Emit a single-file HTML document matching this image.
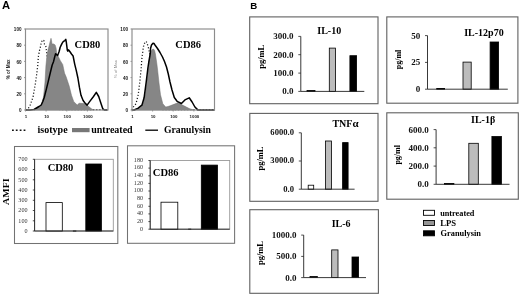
<!DOCTYPE html>
<html><head><meta charset="utf-8"><style>
html,body{margin:0;padding:0;background:#fff;}
body{width:520px;height:295px;overflow:hidden;font-family:"Liberation Sans",sans-serif;}
svg{display:block;filter:grayscale(1) blur(0.35px);}
</style></head><body>
<svg width="520" height="295" viewBox="0 0 520 295">
<rect width="520" height="295" fill="#fff"/>
<polyline points="26.0,110.0 28.0,109.0 30.2,105.0 33.0,97.2 35.7,81.6 37.7,66.0 38.4,56.4 39.3,51.5 39.7,49.5 40.5,46.6 41.3,42.5 42.5,40.0 43.8,40.5 44.5,44.2 45.8,46.2 46.6,51.9 47.0,55.2 49.0,70.0 52.0,90.0 56.0,105.0 60.0,109.6 107.0,109.6" fill="none" stroke="#111" stroke-width="1.25" stroke-dasharray="1.1 2"/>
<polygon points="34.0,110.0 34.0,110.0 36.5,108.6 39.0,107.0 41.5,104.5 43.5,97.0 45.0,82.0 45.9,66.0 47.0,55.0 48.2,49.0 49.0,46.2 50.0,42.1 51.0,38.3 51.6,41.0 52.0,44.0 53.6,43.9 55.1,44.9 56.1,48.2 56.6,52.8 58.2,56.3 60.2,60.4 61.7,62.9 62.7,64.4 63.5,68.2 64.5,73.1 66.2,77.0 67.2,80.0 69.2,86.0 71.5,95.3 73.8,101.7 77.3,105.1 79.0,103.2 84.2,103.6 87.7,105.7 91.2,108.6 93.5,110.0 93.5,110.0" fill="#868686" stroke="#707070" stroke-width="0.5"/>
<polyline points="25.5,110.0 30.0,110.0 34.0,109.5 36.5,108.0 39.0,106.5 41.2,105.0 42.8,101.5 44.3,97.2 46.3,89.4 48.2,81.6 50.0,74.0 51.2,69.0 52.2,65.0 53.6,61.4 54.6,57.3 55.6,53.8 56.6,54.6 57.6,55.5 58.4,53.5 59.2,51.2 60.2,47.2 61.2,45.1 62.2,43.1 63.2,41.6 64.8,40.6 65.8,39.4 66.3,42.1 66.8,46.2 67.3,50.2 67.8,51.2 68.6,49.9 69.8,51.5 71.5,54.0 73.1,56.0 74.7,64.1 76.3,70.6 77.9,78.0 79.4,87.2 81.0,95.3 83.1,100.5 85.0,103.0 87.1,105.1 90.0,101.1 93.5,96.5 96.3,92.4 98.7,96.5 101.0,103.4 102.7,108.6 104.4,110.0 107.5,110.0" fill="none" stroke="#000" stroke-width="1.5" stroke-linejoin="round"/>
<rect x="25.5" y="29" width="82.5" height="81" fill="none" stroke="#8c8c8c" stroke-width="1.15"/>
<line x1="24.0" y1="110.0" x2="25.5" y2="110.0" stroke="#888" stroke-width="0.8"/>
<text x="21.5" y="112.1" font-size="4.6" font-weight="bold" text-anchor="end" fill="#111" font-family='"Liberation Sans", sans-serif'>0</text>
<line x1="24.0" y1="93.8" x2="25.5" y2="93.8" stroke="#888" stroke-width="0.8"/>
<text x="21.5" y="95.9" font-size="4.6" font-weight="bold" text-anchor="end" fill="#111" font-family='"Liberation Sans", sans-serif'>20</text>
<line x1="24.0" y1="77.6" x2="25.5" y2="77.6" stroke="#888" stroke-width="0.8"/>
<text x="21.5" y="79.7" font-size="4.6" font-weight="bold" text-anchor="end" fill="#111" font-family='"Liberation Sans", sans-serif'>40</text>
<line x1="24.0" y1="61.4" x2="25.5" y2="61.4" stroke="#888" stroke-width="0.8"/>
<text x="21.5" y="63.5" font-size="4.6" font-weight="bold" text-anchor="end" fill="#111" font-family='"Liberation Sans", sans-serif'>60</text>
<line x1="24.0" y1="45.2" x2="25.5" y2="45.2" stroke="#888" stroke-width="0.8"/>
<text x="21.5" y="47.3" font-size="4.6" font-weight="bold" text-anchor="end" fill="#111" font-family='"Liberation Sans", sans-serif'>80</text>
<line x1="24.0" y1="29.0" x2="25.5" y2="29.0" stroke="#888" stroke-width="0.8"/>
<text x="21.5" y="31.1" font-size="4.6" font-weight="bold" text-anchor="end" fill="#111" font-family='"Liberation Sans", sans-serif'>100</text>
<line x1="25.5" y1="110" x2="25.5" y2="111.5" stroke="#888" stroke-width="0.8"/>
<text x="26.0" y="117.6" font-size="4.4" font-weight="bold" text-anchor="middle" fill="#222" font-family='"Liberation Sans", sans-serif'>1</text>
<line x1="46.1" y1="110" x2="46.1" y2="111.5" stroke="#888" stroke-width="0.8"/>
<text x="46.6" y="117.6" font-size="4.4" font-weight="bold" text-anchor="middle" fill="#222" font-family='"Liberation Sans", sans-serif'>10</text>
<line x1="66.8" y1="110" x2="66.8" y2="111.5" stroke="#888" stroke-width="0.8"/>
<text x="67.2" y="117.6" font-size="4.4" font-weight="bold" text-anchor="middle" fill="#222" font-family='"Liberation Sans", sans-serif'>100</text>
<line x1="87.4" y1="110" x2="87.4" y2="111.5" stroke="#888" stroke-width="0.8"/>
<text x="87.9" y="117.6" font-size="4.4" font-weight="bold" text-anchor="middle" fill="#222" font-family='"Liberation Sans", sans-serif'>1000</text>
<text x="74.6" y="48.3" font-size="10.5" font-weight="bold" fill="#000" font-family='"Liberation Serif", serif'>CD80</text>
<polyline points="132.0,110.0 133.0,107.5 136.0,103.7 138.2,94.8 139.7,82.9 141.2,68.0 141.6,62.0 142.1,56.5 143.5,46.5 145.0,42.0 146.0,41.5 147.0,42.5 147.8,45.8 148.5,48.0 150.0,55.0 152.0,70.0 155.0,90.0 158.0,105.0 162.0,109.6 214.0,109.6" fill="none" stroke="#111" stroke-width="1.25" stroke-dasharray="1.1 2"/>
<polygon points="134.0,110.0 134.0,110.0 138.0,109.2 141.5,106.8 143.5,102.0 145.2,95.0 146.4,85.0 147.5,75.0 148.5,67.0 149.3,61.0 150.2,55.0 151.2,51.0 152.5,49.3 153.5,49.0 154.6,50.5 155.4,54.0 156.3,60.0 157.0,65.0 157.6,70.0 159.0,82.9 160.5,94.8 162.8,103.7 165.7,107.0 168.0,106.5 170.7,105.6 177.8,102.8 183.5,105.6 189.2,108.5 193.5,110.0 193.5,110.0" fill="#868686" stroke="#707070" stroke-width="0.5"/>
<polyline points="132.0,110.0 134.0,110.0 138.2,108.2 141.9,105.2 144.1,97.8 146.1,82.9 147.9,68.0 148.8,62.0 149.5,58.0 150.2,54.0 150.6,48.2 151.5,45.0 153.0,43.2 154.0,43.5 155.5,45.8 157.5,48.5 160.0,52.5 162.5,57.0 164.5,61.5 166.5,67.0 168.3,74.0 170.0,82.0 172.0,90.0 174.3,97.5 177.1,101.3 181.4,103.5 184.9,99.9 189.2,97.8 192.1,102.0 194.9,107.0 197.8,109.9 214.5,110.0" fill="none" stroke="#000" stroke-width="1.5" stroke-linejoin="round"/>
<rect x="132" y="29" width="82.5" height="81" fill="none" stroke="#8c8c8c" stroke-width="1.15"/>
<line x1="130.5" y1="110.0" x2="132" y2="110.0" stroke="#888" stroke-width="0.8"/>
<text x="128" y="112.1" font-size="4.6" font-weight="bold" text-anchor="end" fill="#111" font-family='"Liberation Sans", sans-serif'>0</text>
<line x1="130.5" y1="93.8" x2="132" y2="93.8" stroke="#888" stroke-width="0.8"/>
<text x="128" y="95.9" font-size="4.6" font-weight="bold" text-anchor="end" fill="#111" font-family='"Liberation Sans", sans-serif'>20</text>
<line x1="130.5" y1="77.6" x2="132" y2="77.6" stroke="#888" stroke-width="0.8"/>
<text x="128" y="79.7" font-size="4.6" font-weight="bold" text-anchor="end" fill="#111" font-family='"Liberation Sans", sans-serif'>40</text>
<line x1="130.5" y1="61.4" x2="132" y2="61.4" stroke="#888" stroke-width="0.8"/>
<text x="128" y="63.5" font-size="4.6" font-weight="bold" text-anchor="end" fill="#111" font-family='"Liberation Sans", sans-serif'>60</text>
<line x1="130.5" y1="45.2" x2="132" y2="45.2" stroke="#888" stroke-width="0.8"/>
<text x="128" y="47.3" font-size="4.6" font-weight="bold" text-anchor="end" fill="#111" font-family='"Liberation Sans", sans-serif'>80</text>
<line x1="130.5" y1="29.0" x2="132" y2="29.0" stroke="#888" stroke-width="0.8"/>
<text x="128" y="31.1" font-size="4.6" font-weight="bold" text-anchor="end" fill="#111" font-family='"Liberation Sans", sans-serif'>100</text>
<line x1="132.0" y1="110" x2="132.0" y2="111.5" stroke="#888" stroke-width="0.8"/>
<text x="132.5" y="117.6" font-size="4.4" font-weight="bold" text-anchor="middle" fill="#222" font-family='"Liberation Sans", sans-serif'>1</text>
<line x1="152.6" y1="110" x2="152.6" y2="111.5" stroke="#888" stroke-width="0.8"/>
<text x="153.1" y="117.6" font-size="4.4" font-weight="bold" text-anchor="middle" fill="#222" font-family='"Liberation Sans", sans-serif'>10</text>
<line x1="173.2" y1="110" x2="173.2" y2="111.5" stroke="#888" stroke-width="0.8"/>
<text x="173.8" y="117.6" font-size="4.4" font-weight="bold" text-anchor="middle" fill="#222" font-family='"Liberation Sans", sans-serif'>100</text>
<line x1="193.9" y1="110" x2="193.9" y2="111.5" stroke="#888" stroke-width="0.8"/>
<text x="194.4" y="117.6" font-size="4.4" font-weight="bold" text-anchor="middle" fill="#222" font-family='"Liberation Sans", sans-serif'>1000</text>
<text x="175.3" y="48.3" font-size="10.5" font-weight="bold" fill="#000" font-family='"Liberation Serif", serif'>CD86</text>
<text transform="translate(10.3,69.3) rotate(-90)" font-size="4.6" font-weight="bold" text-anchor="middle" fill="#222" font-family='"Liberation Sans", sans-serif'>% of Max</text>
<text transform="translate(117.4,69.2) rotate(-90)" font-size="4.4" text-anchor="middle" fill="#888" font-family='"Liberation Sans", sans-serif'>% of Max</text>
<rect x="12.0" y="129.5" width="1.8" height="1.5" fill="#111"/>
<rect x="15.8" y="129.5" width="1.8" height="1.5" fill="#111"/>
<rect x="19.7" y="129.5" width="1.8" height="1.5" fill="#111"/>
<rect x="23.6" y="129.5" width="1.8" height="1.5" fill="#111"/>
<text x="37.6" y="133" font-size="10" font-weight="bold" fill="#000" font-family='"Liberation Serif", serif'>isotype</text>
<rect x="72" y="128" width="17.6" height="4.2" fill="#777"/>
<text x="91.2" y="133" font-size="10" font-weight="bold" fill="#000" font-family='"Liberation Serif", serif'>untreated</text>
<line x1="145.3" y1="130.2" x2="158" y2="130.2" stroke="#000" stroke-width="1.3"/>
<text x="164" y="133" font-size="9.7" font-weight="bold" fill="#000" font-family='"Liberation Serif", serif'>Granulysin</text>
<text x="1.9" y="8.9" font-size="11.2" font-weight="bold" fill="#000" font-family='"Liberation Sans", sans-serif'>A</text>
<text x="250.2" y="8.8" font-size="9.7" font-weight="bold" fill="#000" font-family='"Liberation Sans", sans-serif'>B</text>
<rect x="14.5" y="146.5" width="103.3" height="97.0" fill="none" stroke="#727272" stroke-width="1.05"/>
<rect x="34.6" y="159.3" width="78.69999999999999" height="71.69999999999999" fill="none" stroke="#999" stroke-width="0.9"/>
<rect x="46" y="202.6" width="16.299999999999997" height="28.400000000000006" fill="#fff" stroke="#000" stroke-width="0.8"/>
<rect x="85.8" y="164" width="15.600000000000009" height="67" fill="#000" stroke="#000" stroke-width="0.8"/>
<line x1="34.6" y1="159.3" x2="34.6" y2="231" stroke="#222" stroke-width="0.9"/>
<line x1="34.6" y1="231" x2="113.3" y2="231" stroke="#222" stroke-width="0.9"/>
<line x1="32.800000000000004" y1="231.0" x2="34.6" y2="231.0" stroke="#222" stroke-width="0.8"/>
<text x="27.5" y="232.9" font-size="6.1" fill="#333" text-anchor="end" font-family='"Liberation Serif", serif'>0</text>
<line x1="32.800000000000004" y1="220.8" x2="34.6" y2="220.8" stroke="#222" stroke-width="0.8"/>
<text x="27.5" y="222.7" font-size="6.1" fill="#333" text-anchor="end" font-family='"Liberation Serif", serif'>100</text>
<line x1="32.800000000000004" y1="210.5" x2="34.6" y2="210.5" stroke="#222" stroke-width="0.8"/>
<text x="27.5" y="212.4" font-size="6.1" fill="#333" text-anchor="end" font-family='"Liberation Serif", serif'>200</text>
<line x1="32.800000000000004" y1="200.3" x2="34.6" y2="200.3" stroke="#222" stroke-width="0.8"/>
<text x="27.5" y="202.2" font-size="6.1" fill="#333" text-anchor="end" font-family='"Liberation Serif", serif'>300</text>
<line x1="32.800000000000004" y1="190.0" x2="34.6" y2="190.0" stroke="#222" stroke-width="0.8"/>
<text x="27.5" y="191.9" font-size="6.1" fill="#333" text-anchor="end" font-family='"Liberation Serif", serif'>400</text>
<line x1="32.800000000000004" y1="179.8" x2="34.6" y2="179.8" stroke="#222" stroke-width="0.8"/>
<text x="27.5" y="181.7" font-size="6.1" fill="#333" text-anchor="end" font-family='"Liberation Serif", serif'>500</text>
<line x1="32.800000000000004" y1="169.5" x2="34.6" y2="169.5" stroke="#222" stroke-width="0.8"/>
<text x="27.5" y="171.4" font-size="6.1" fill="#333" text-anchor="end" font-family='"Liberation Serif", serif'>600</text>
<line x1="32.800000000000004" y1="159.3" x2="34.6" y2="159.3" stroke="#222" stroke-width="0.8"/>
<text x="27.5" y="161.2" font-size="6.1" fill="#333" text-anchor="end" font-family='"Liberation Serif", serif'>700</text>
<text x="47.7" y="170.6" font-size="10.5" font-weight="bold" fill="#000" font-family='"Liberation Serif", serif'>CD80</text>
<rect x="127.5" y="145.8" width="107.1" height="97.5" fill="none" stroke="#727272" stroke-width="1.05"/>
<rect x="150.2" y="160.5" width="79.5" height="68.69999999999999" fill="none" stroke="#999" stroke-width="0.9"/>
<rect x="161" y="202.2" width="16.80000000000001" height="27.0" fill="#fff" stroke="#000" stroke-width="0.8"/>
<rect x="201.3" y="165.1" width="16.19999999999999" height="64.1" fill="#000" stroke="#000" stroke-width="0.8"/>
<line x1="150.2" y1="160.5" x2="150.2" y2="229.2" stroke="#222" stroke-width="0.9"/>
<line x1="150.2" y1="229.2" x2="229.7" y2="229.2" stroke="#222" stroke-width="0.9"/>
<line x1="148.39999999999998" y1="229.2" x2="150.2" y2="229.2" stroke="#222" stroke-width="0.8"/>
<text x="143.0" y="230.5" font-size="6.1" fill="#333" text-anchor="end" font-family='"Liberation Serif", serif'>0</text>
<line x1="148.39999999999998" y1="221.6" x2="150.2" y2="221.6" stroke="#222" stroke-width="0.8"/>
<text x="143.0" y="222.9" font-size="6.1" fill="#333" text-anchor="end" font-family='"Liberation Serif", serif'>20</text>
<line x1="148.39999999999998" y1="213.9" x2="150.2" y2="213.9" stroke="#222" stroke-width="0.8"/>
<text x="143.0" y="215.2" font-size="6.1" fill="#333" text-anchor="end" font-family='"Liberation Serif", serif'>40</text>
<line x1="148.39999999999998" y1="206.3" x2="150.2" y2="206.3" stroke="#222" stroke-width="0.8"/>
<text x="143.0" y="207.6" font-size="6.1" fill="#333" text-anchor="end" font-family='"Liberation Serif", serif'>60</text>
<line x1="148.39999999999998" y1="198.7" x2="150.2" y2="198.7" stroke="#222" stroke-width="0.8"/>
<text x="143.0" y="200.0" font-size="6.1" fill="#333" text-anchor="end" font-family='"Liberation Serif", serif'>80</text>
<line x1="148.39999999999998" y1="191.0" x2="150.2" y2="191.0" stroke="#222" stroke-width="0.8"/>
<text x="143.0" y="192.3" font-size="6.1" fill="#333" text-anchor="end" font-family='"Liberation Serif", serif'>100</text>
<line x1="148.39999999999998" y1="183.4" x2="150.2" y2="183.4" stroke="#222" stroke-width="0.8"/>
<text x="143.0" y="184.7" font-size="6.1" fill="#333" text-anchor="end" font-family='"Liberation Serif", serif'>120</text>
<line x1="148.39999999999998" y1="175.8" x2="150.2" y2="175.8" stroke="#222" stroke-width="0.8"/>
<text x="143.0" y="177.1" font-size="6.1" fill="#333" text-anchor="end" font-family='"Liberation Serif", serif'>140</text>
<line x1="148.39999999999998" y1="168.1" x2="150.2" y2="168.1" stroke="#222" stroke-width="0.8"/>
<text x="143.0" y="169.4" font-size="6.1" fill="#333" text-anchor="end" font-family='"Liberation Serif", serif'>160</text>
<line x1="148.39999999999998" y1="160.5" x2="150.2" y2="160.5" stroke="#222" stroke-width="0.8"/>
<text x="143.0" y="161.8" font-size="6.1" fill="#333" text-anchor="end" font-family='"Liberation Serif", serif'>180</text>
<text x="152.8" y="175.8" font-size="10.5" font-weight="bold" fill="#000" font-family='"Liberation Serif", serif'>CD86</text>
<rect x="72.9" y="230.4" width="3.4" height="1.3" fill="#333"/>
<rect x="188.2" y="228.6" width="3" height="1.3" fill="#333"/>
<text transform="translate(9.3,191.7) rotate(-90) scale(1.28,1)" font-size="7.8" font-weight="bold" text-anchor="middle" fill="#000" font-family='"Liberation Serif", serif'>AMFI</text>
<rect x="249.7" y="16.9" width="128.3" height="86.80000000000001" fill="none" stroke="#606060" stroke-width="1.1"/>
<rect x="307" y="90.4" width="8" height="1.0" fill="#000" stroke="#000" stroke-width="0.8"/>
<rect x="329.3" y="48.1" width="6.300000000000011" height="43.300000000000004" fill="#bcbcbc" stroke="#000" stroke-width="0.8"/>
<rect x="349.9" y="55.7" width="6.7000000000000455" height="35.7" fill="#000" stroke="#000" stroke-width="0.8"/>
<line x1="300.8" y1="36.4" x2="300.8" y2="91.4" stroke="#222" stroke-width="0.9"/>
<line x1="300.8" y1="91.4" x2="364.3" y2="91.4" stroke="#222" stroke-width="0.9"/>
<line x1="298.3" y1="91.4" x2="300.8" y2="91.4" stroke="#222" stroke-width="0.8"/>
<text x="293.5" y="94.3" font-size="9" font-weight="bold" fill="#111" text-anchor="end" font-family='"Liberation Serif", serif'>0.0</text>
<line x1="298.3" y1="73.1" x2="300.8" y2="73.1" stroke="#222" stroke-width="0.8"/>
<text x="293.5" y="76.0" font-size="9" font-weight="bold" fill="#111" text-anchor="end" font-family='"Liberation Serif", serif'>100.0</text>
<line x1="298.3" y1="54.7" x2="300.8" y2="54.7" stroke="#222" stroke-width="0.8"/>
<text x="293.5" y="57.6" font-size="9" font-weight="bold" fill="#111" text-anchor="end" font-family='"Liberation Serif", serif'>200.0</text>
<line x1="298.3" y1="36.4" x2="300.8" y2="36.4" stroke="#222" stroke-width="0.8"/>
<text x="293.5" y="39.3" font-size="9" font-weight="bold" fill="#111" text-anchor="end" font-family='"Liberation Serif", serif'>300.0</text>
<text x="317.3" y="34.2" font-size="10" font-weight="bold" fill="#000" font-family='"Liberation Serif", serif'>IL-10</text>
<text transform="translate(263.8,56.8) rotate(-90)" font-size="8.5" font-weight="bold" text-anchor="middle" fill="#000" font-family='"Liberation Serif", serif'>pg/mL</text>
<rect x="386.8" y="16.9" width="131.09999999999997" height="86.30000000000001" fill="none" stroke="#606060" stroke-width="1.1"/>
<rect x="436.7" y="88.4" width="7.900000000000034" height="0.7999999999999972" fill="#000" stroke="#000" stroke-width="0.8"/>
<rect x="463" y="62.1" width="8.199999999999989" height="27.1" fill="#bcbcbc" stroke="#000" stroke-width="0.8"/>
<rect x="490.1" y="42" width="8.5" height="47.2" fill="#000" stroke="#000" stroke-width="0.8"/>
<line x1="427.5" y1="35.6" x2="427.5" y2="89.2" stroke="#222" stroke-width="0.9"/>
<line x1="427.5" y1="89.2" x2="507.8" y2="89.2" stroke="#222" stroke-width="0.9"/>
<line x1="425.0" y1="89.2" x2="427.5" y2="89.2" stroke="#222" stroke-width="0.8"/>
<text x="420.2" y="92.1" font-size="9" font-weight="bold" fill="#111" text-anchor="end" font-family='"Liberation Serif", serif'>0</text>
<line x1="425.0" y1="62.4" x2="427.5" y2="62.4" stroke="#222" stroke-width="0.8"/>
<text x="420.2" y="65.3" font-size="9" font-weight="bold" fill="#111" text-anchor="end" font-family='"Liberation Serif", serif'>25</text>
<line x1="425.0" y1="35.6" x2="427.5" y2="35.6" stroke="#222" stroke-width="0.8"/>
<text x="420.2" y="38.5" font-size="9" font-weight="bold" fill="#111" text-anchor="end" font-family='"Liberation Serif", serif'>50</text>
<text x="464.2" y="35.6" font-size="10" font-weight="bold" fill="#000" font-family='"Liberation Serif", serif'>IL-12p70</text>
<text transform="translate(401.2,59.5) rotate(-90)" font-size="8.0" font-weight="bold" text-anchor="middle" fill="#000" font-family='"Liberation Serif", serif'>pg/ml</text>
<rect x="249.8" y="113.4" width="128.2" height="87.9" fill="none" stroke="#606060" stroke-width="1.1"/>
<rect x="308.2" y="185.2" width="5.5" height="4.0" fill="#fff" stroke="#000" stroke-width="0.8"/>
<rect x="325.4" y="141" width="6.100000000000023" height="48.19999999999999" fill="#bcbcbc" stroke="#000" stroke-width="0.8"/>
<rect x="342.6" y="142.6" width="5.5" height="46.599999999999994" fill="#000" stroke="#000" stroke-width="0.8"/>
<line x1="301.3" y1="132.8" x2="301.3" y2="189.2" stroke="#222" stroke-width="0.9"/>
<line x1="301.3" y1="189.2" x2="354.6" y2="189.2" stroke="#222" stroke-width="0.9"/>
<line x1="298.8" y1="189.2" x2="301.3" y2="189.2" stroke="#222" stroke-width="0.8"/>
<text x="294.0" y="191.5" font-size="8.6" font-weight="bold" fill="#111" text-anchor="end" font-family='"Liberation Serif", serif'>0.0</text>
<line x1="298.8" y1="161.0" x2="301.3" y2="161.0" stroke="#222" stroke-width="0.8"/>
<text x="294.0" y="163.3" font-size="8.6" font-weight="bold" fill="#111" text-anchor="end" font-family='"Liberation Serif", serif'>3000.0</text>
<line x1="298.8" y1="132.8" x2="301.3" y2="132.8" stroke="#222" stroke-width="0.8"/>
<text x="294.0" y="135.1" font-size="8.6" font-weight="bold" fill="#111" text-anchor="end" font-family='"Liberation Serif", serif'>6000.0</text>
<text x="332.4" y="126.5" font-size="10" font-weight="bold" fill="#000" font-family='"Liberation Serif", serif'>TNF<tspan font-size="11">&#945;</tspan></text>
<text transform="translate(262.6,158.5) rotate(-90)" font-size="8.5" font-weight="bold" text-anchor="middle" fill="#000" font-family='"Liberation Serif", serif'>pg/mL</text>
<rect x="386.8" y="112.8" width="131.49999999999994" height="86.39999999999999" fill="none" stroke="#606060" stroke-width="1.1"/>
<rect x="444.4" y="183.5" width="9.5" height="0.8000000000000114" fill="#000" stroke="#000" stroke-width="0.8"/>
<rect x="468.8" y="143.3" width="9.5" height="41.0" fill="#bcbcbc" stroke="#000" stroke-width="0.8"/>
<rect x="491.9" y="136.5" width="9.5" height="47.80000000000001" fill="#000" stroke="#000" stroke-width="0.8"/>
<line x1="436.1" y1="129.6" x2="436.1" y2="184.3" stroke="#222" stroke-width="0.9"/>
<line x1="436.1" y1="184.3" x2="509.5" y2="184.3" stroke="#222" stroke-width="0.9"/>
<line x1="433.6" y1="184.3" x2="436.1" y2="184.3" stroke="#222" stroke-width="0.8"/>
<text x="428.8" y="187.2" font-size="9" font-weight="bold" fill="#111" text-anchor="end" font-family='"Liberation Serif", serif'>0.0</text>
<line x1="433.6" y1="166.1" x2="436.1" y2="166.1" stroke="#222" stroke-width="0.8"/>
<text x="428.8" y="169.0" font-size="9" font-weight="bold" fill="#111" text-anchor="end" font-family='"Liberation Serif", serif'>200.0</text>
<line x1="433.6" y1="147.8" x2="436.1" y2="147.8" stroke="#222" stroke-width="0.8"/>
<text x="428.8" y="150.7" font-size="9" font-weight="bold" fill="#111" text-anchor="end" font-family='"Liberation Serif", serif'>400.0</text>
<line x1="433.6" y1="129.6" x2="436.1" y2="129.6" stroke="#222" stroke-width="0.8"/>
<text x="428.8" y="132.5" font-size="9" font-weight="bold" fill="#111" text-anchor="end" font-family='"Liberation Serif", serif'>600.0</text>
<text x="471" y="123.1" font-size="10" font-weight="bold" fill="#000" font-family='"Liberation Serif", serif'>IL-1&#946;</text>
<text transform="translate(399.8,154.8) rotate(-90)" font-size="8.0" font-weight="bold" text-anchor="middle" fill="#000" font-family='"Liberation Serif", serif'>pg/ml</text>
<rect x="249.8" y="209.7" width="128.59999999999997" height="83.60000000000002" fill="none" stroke="#606060" stroke-width="1.1"/>
<rect x="310" y="276.5" width="7.300000000000011" height="1.1000000000000227" fill="#000" stroke="#000" stroke-width="0.8"/>
<rect x="331.7" y="249.9" width="6.300000000000011" height="27.700000000000017" fill="#bcbcbc" stroke="#000" stroke-width="0.8"/>
<rect x="352" y="257" width="6.600000000000023" height="20.600000000000023" fill="#000" stroke="#000" stroke-width="0.8"/>
<line x1="303.7" y1="235.1" x2="303.7" y2="277.6" stroke="#222" stroke-width="0.9"/>
<line x1="303.7" y1="277.6" x2="366" y2="277.6" stroke="#222" stroke-width="0.9"/>
<line x1="301.2" y1="277.6" x2="303.7" y2="277.6" stroke="#222" stroke-width="0.8"/>
<text x="296.4" y="280.5" font-size="9" font-weight="bold" fill="#111" text-anchor="end" font-family='"Liberation Serif", serif'>0.0</text>
<line x1="301.2" y1="256.4" x2="303.7" y2="256.4" stroke="#222" stroke-width="0.8"/>
<text x="296.4" y="259.2" font-size="9" font-weight="bold" fill="#111" text-anchor="end" font-family='"Liberation Serif", serif'>500.0</text>
<line x1="301.2" y1="235.1" x2="303.7" y2="235.1" stroke="#222" stroke-width="0.8"/>
<text x="296.4" y="238.0" font-size="9" font-weight="bold" fill="#111" text-anchor="end" font-family='"Liberation Serif", serif'>1000.0</text>
<text x="331.7" y="227.4" font-size="10" font-weight="bold" fill="#000" font-family='"Liberation Serif", serif'>IL-6</text>
<text transform="translate(262.8,253) rotate(-90)" font-size="8.5" font-weight="bold" text-anchor="middle" fill="#000" font-family='"Liberation Serif", serif'>pg/mL</text>
<rect x="423.5" y="210.3" width="11" height="5" fill="#fff" stroke="#000" stroke-width="0.9"/>
<rect x="423.5" y="220.5" width="11" height="5" fill="#959595" stroke="#000" stroke-width="0.9"/>
<rect x="423.5" y="230.8" width="11" height="5" fill="#000" stroke="#000" stroke-width="0.9"/>
<text x="440.2" y="215.6" font-size="8.25" font-weight="bold" fill="#000" font-family='"Liberation Serif", serif'>untreated</text>
<text x="440.2" y="225.9" font-size="8.65" font-weight="bold" fill="#000" font-family='"Liberation Serif", serif'>LPS</text>
<text x="440.6" y="236" font-size="8.35" font-weight="bold" fill="#000" font-family='"Liberation Serif", serif'>Granulysin</text>
</svg>
</body></html>
